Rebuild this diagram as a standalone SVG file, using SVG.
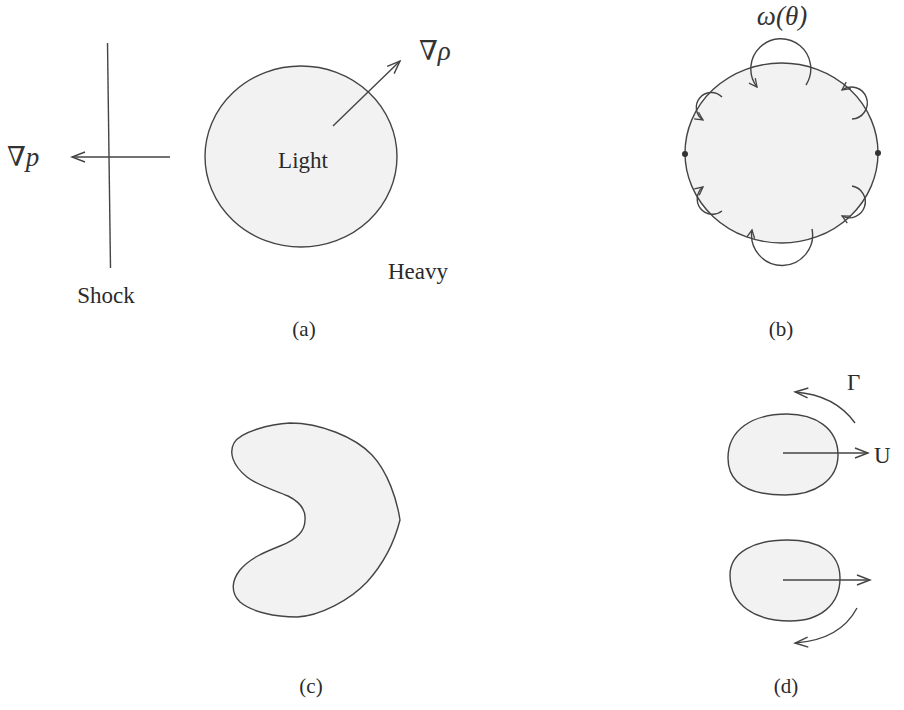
<svg xmlns="http://www.w3.org/2000/svg" width="904" height="710" viewBox="0 0 904 710">
<style>
.ln{fill:none;stroke:#444;stroke-width:1.4}
.sh{fill:#f2f2f2;stroke:#444;stroke-width:1.4}
.t{font-family:"Liberation Serif","DejaVu Serif",serif;fill:#2a2a2a;font-size:23px}
.l{font-family:"Liberation Serif","DejaVu Serif",serif;fill:#2a2a2a;font-size:21px}
.m{font-family:"Liberation Serif","DejaVu Serif",serif;fill:#333;font-size:27px}
.c{text-anchor:middle}
</style>
<defs>
<marker id="ah" markerWidth="16" markerHeight="14" viewBox="-14 -7 16 14" refX="0" refY="0" orient="auto" markerUnits="userSpaceOnUse">
<path d="M-13,-5 L0,0 L-13,5" fill="none" stroke="#444" stroke-width="1.4"/>
</marker>
<marker id="as" markerWidth="12" markerHeight="10" viewBox="-10 -5 12 10" refX="0" refY="0" orient="auto" markerUnits="userSpaceOnUse">
<path d="M-8,-4 L0,0 L-8,4" fill="none" stroke="#444" stroke-width="1.3"/>
</marker>
</defs>
<rect width="904" height="710" fill="#fff"/>

<!-- Panel (a) -->
<g id="panel-a">
<g id="bubble-a"><ellipse class="sh" cx="301" cy="156.5" rx="96" ry="90.5"/>
<text class="t c" x="303" y="168">Light</text></g>
<g id="shock"><line class="ln" x1="107.5" y1="43" x2="110.5" y2="268"/>
<text class="t c" x="106" y="303">Shock</text></g>
<text class="t c" x="418" y="279">Heavy</text>
<text class="m" x="7" y="166">∇<tspan font-style="italic">p</tspan></text>
<text class="m" x="419" y="60">∇<tspan font-style="italic">ρ</tspan></text>
<text class="l c" x="304" y="336">(a)</text>
</g>

<!-- Panel (b) -->
<g id="panel-b">
<g id="bubble-b"><ellipse class="sh" cx="781.5" cy="153" rx="96.5" ry="90"/>
<circle cx="685" cy="154" r="3" fill="#333"/>
<circle cx="878" cy="153" r="3" fill="#333"/></g>
<text class="m c" x="782" y="25" font-style="italic">ω(θ)</text>
<text class="l c" x="781" y="336">(b)</text>
</g>

<!-- Panel (c) -->
<g id="panel-c">
<path id="kidney" class="sh" d="M 290 423 C 270 424, 240 432, 234 443 C 229 452, 232 465, 247 477 C 258 486, 275 490, 288 496 C 300 502, 306 510, 305 520 C 305 532, 296 540, 280 546 C 265 552, 250 558, 240 570 C 232 580, 230 592, 240 602 C 252 612, 275 617, 297 617 C 320 616, 350 600, 367 582 C 385 562, 395 540, 400 520 C 397 500, 388 472, 372 455 C 355 437, 320 423, 290 423 Z"/>
<text class="l c" x="311" y="693">(c)</text>
</g>

<!-- Panel (d) -->
<g id="panel-d">
<path id="blob-upper" class="sh" d="M 787 414 C 815 414, 838 428, 838 455 C 838 480, 815 495, 785 495 C 750 495, 728 485, 728 458 C 728 430, 752 414, 787 414 Z"/>
<path id="blob-lower" class="sh" d="M 787 540 C 818 540, 840 552, 840 578 C 840 605, 820 621, 790 621 C 755 621, 730 605, 730 575 C 730 552, 755 540, 787 540 Z"/>
<text class="t" x="874" y="463">U</text>
<text class="t" x="847" y="390">Γ</text>
<text class="l c" x="786" y="693">(d)</text>
</g>

<g id="connectors">
<line class="ln" x1="170" y1="157" x2="72" y2="157" marker-end="url(#ah)"/>
<line class="ln" x1="333" y1="126" x2="400" y2="61" marker-end="url(#ah)"/>
<path class="ln" d="M 806 85 A 30 30 0 1 0 757 87" marker-end="url(#as)"/>
<path class="ln" d="M 812 229 A 30.5 30.5 0 1 1 752 230" marker-end="url(#as)"/>
<path class="ln" d="M 722 97 A 15 15 0 1 0 703 120" marker-end="url(#as)"/>
<path class="ln" d="M 722 211 A 15 15 0 1 1 703 187" marker-end="url(#as)"/>
<path class="ln" d="M 852 119 A 16 16 0 1 0 842 90" marker-end="url(#as)"/>
<path class="ln" d="M 852 186 A 16 16 0 1 1 842 216" marker-end="url(#as)"/>
<line class="ln" x1="783" y1="453" x2="868" y2="453" marker-end="url(#ah)"/>
<line class="ln" x1="783" y1="580" x2="870" y2="580" marker-end="url(#ah)"/>
<path class="ln" d="M 855 423 Q 835 395 795 392" marker-end="url(#ah)"/>
<path class="ln" d="M 857 608 Q 840 640 795 643" marker-end="url(#ah)"/>
</g>
</svg>
